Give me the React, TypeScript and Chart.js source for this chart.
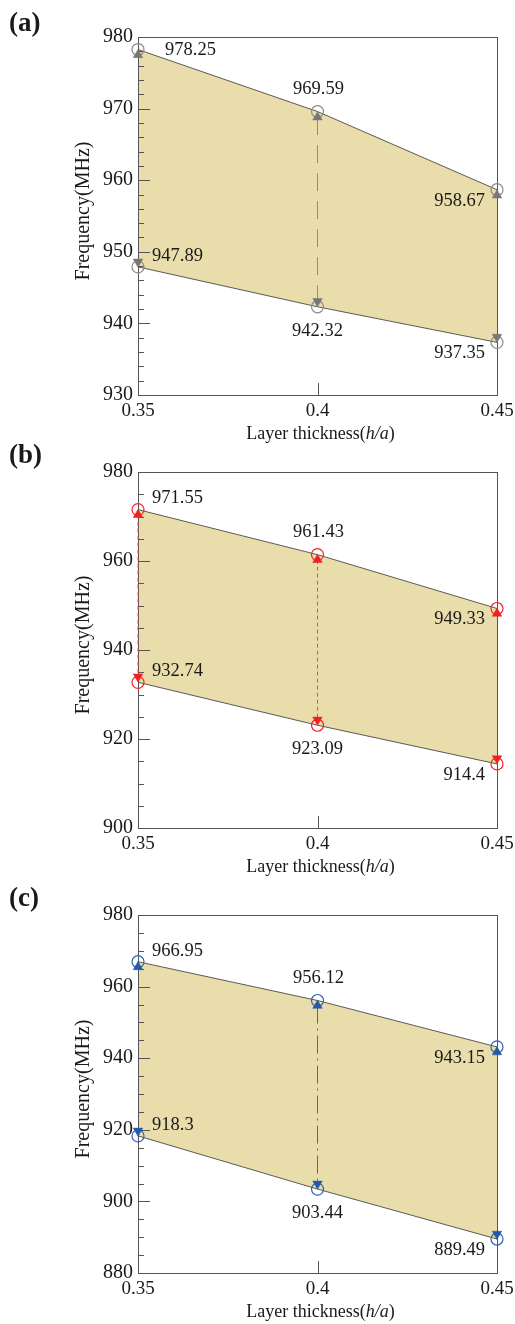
import React, { useEffect, useRef } from "react";
import { Chart, registerables } from "chart.js";

Chart.register(...registerables);

// ---------- data ----------
const thickness = [0.35, 0.4, 0.45];
const xTickLabels = ["0.35", "0.4", "0.45"];

const upperA = [978.25, 969.59, 958.67];
const lowerA = [947.89, 942.32, 937.35];
const triUpA = [977.5, 968.8, 957.9];
const triDownA = [948.6, 943.1, 938.1];
const yTicksA = [930, 940, 950, 960, 970, 980];

const upperB = [971.55, 961.43, 949.33];
const lowerB = [932.74, 923.09, 914.4];
const triUpB = [970.4, 960.3, 948.2];
const triDownB = [934.0, 924.3, 915.6];
const yTicksB = [900, 920, 940, 960, 980];

const upperC = [966.95, 956.12, 943.15];
const lowerC = [918.3, 903.44, 889.49];
const triUpC = [965.5, 954.7, 941.7];
const triDownC = [919.7, 904.9, 890.9];
const yTicksC = [880, 900, 920, 940, 960, 980];

// ---------- styling ----------
const SERIF = "'Liberation Serif', 'Times New Roman', serif";
const FILL = "rgb(233, 221, 172)";
const FRAME = "#555555";
const TEXT = "#1a1a1a";

type Panel = {
  name: string;
  upper: number[];
  lower: number[];
  triUp: number[];
  triDown: number[];
  yTicks: number[];
  minorStep: number;
  circleColor: string;
  triColor: string;
  dashColor: string;
  dash: number[];
  dashAt: number[];
  upperPlace: string[];
  lowerPlace: string[];
  canvasTop: number;
  canvasHeight: number;
  plotTop: number;
  plotBottom: number;
  labelY: number;
};

const panels: Panel[] = [
  {
    name: "(a)",
    upper: upperA, lower: lowerA, triUp: triUpA, triDown: triDownA,
    yTicks: yTicksA, minorStep: 2,
    circleColor: "#8c8c8c", triColor: "#777777", dashColor: "#8c8c8c",
    dash: [18, 10], dashAt: [1],
    upperPlace: ["rightLevel", "above", "belowLeft"],
    lowerPlace: ["rightUp", "below", "belowLeft"],
    canvasTop: 0, canvasHeight: 445, plotTop: 37, plotBottom: 395, labelY: 24,
  },
  {
    name: "(b)",
    upper: upperB, lower: lowerB, triUp: triUpB, triDown: triDownB,
    yTicks: yTicksB, minorStep: 5,
    circleColor: "#ff1e1e", triColor: "#ee2222", dashColor: "#e05050",
    dash: [4, 3], dashAt: [0, 1],
    upperPlace: ["rightUp", "above", "belowLeft"],
    lowerPlace: ["rightUp", "below", "belowLeft"],
    canvasTop: 440, canvasHeight: 445, plotTop: 472, plotBottom: 828, labelY: 456,
  },
  {
    name: "(c)",
    upper: upperC, lower: lowerC, triUp: triUpC, triDown: triDownC,
    yTicks: yTicksC, minorStep: 5,
    circleColor: "#2f63b8", triColor: "#2458a8", dashColor: "#50698f",
    dash: [18, 5, 2, 5], dashAt: [1],
    upperPlace: ["rightUp", "above", "belowLeft"],
    lowerPlace: ["rightUp", "below", "belowLeft"],
    canvasTop: 880, canvasHeight: 444, plotTop: 915, plotBottom: 1273, labelY: 899,
  },
];

const placements: Record<string, { align: CanvasTextAlign; dx: number; dy: number }> = {
  rightLevel: { align: "left", dx: 27, dy: 1 },
  rightUp: { align: "left", dx: 14, dy: -11 },
  above: { align: "center", dx: 1, dy: -22 },
  below: { align: "center", dx: 0, dy: 24 },
  belowLeft: { align: "right", dx: -12, dy: 11 },
};

function buildChart(canvas: HTMLCanvasElement, p: Panel): Chart {
  const pts = (ys: number[]) => thickness.map((x, i) => ({ x, y: ys[i] }));
  const yMin = p.yTicks[0];
  const yMax = p.yTicks[p.yTicks.length - 1];

  const decor = {
    id: "decor-" + p.name,
    beforeDatasetsDraw(chart: any) {
      const { ctx, chartArea: a, scales } = chart;
      const ys = scales.y;
      const xs = scales.x;
      ctx.save();
      ctx.strokeStyle = FRAME;
      ctx.lineWidth = 1;
      ctx.beginPath();
      for (let v = yMin; v <= yMax + 1e-9; v += p.minorStep) {
        const y = Math.round(ys.getPixelForValue(v)) + 0.5;
        const major = p.yTicks.some((t) => Math.abs(t - v) < 1e-9);
        ctx.moveTo(a.left, y);
        ctx.lineTo(a.left + (major ? 12 : 6), y);
      }
      for (let i = 1; i < thickness.length - 1; i++) {
        const x = Math.round(xs.getPixelForValue(thickness[i])) + 0.5;
        ctx.moveTo(x, a.bottom);
        ctx.lineTo(x, a.bottom - 12);
      }
      ctx.stroke();
      ctx.strokeRect(Math.round(a.left) + 0.5, Math.round(a.top) + 0.5,
        Math.round(a.right - a.left), Math.round(a.bottom - a.top));
      ctx.restore();
    },
    afterDatasetsDraw(chart: any) {
      const { ctx, chartArea: a, scales } = chart;
      const xs = scales.x;
      const ys = scales.y;
      ctx.save();
      ctx.fillStyle = TEXT;
      ctx.font = `18.5px ${SERIF}`;
      ctx.textBaseline = "middle";
      const drawSet = (vals: number[], places: string[]) => {
        vals.forEach((v, i) => {
          const pl = placements[places[i]];
          const px = xs.getPixelForValue(thickness[i]);
          const py = ys.getPixelForValue(v);
          ctx.textAlign = pl.align;
          ctx.fillText(String(v), px + pl.dx, py + pl.dy);
        });
      };
      drawSet(p.upper, p.upperPlace);
      drawSet(p.lower, p.lowerPlace);

      ctx.font = `bold 27px ${SERIF}`;
      ctx.textAlign = "left";
      ctx.fillText(p.name, 9, p.labelY - p.canvasTop);

      const parts: [string, string][] = [
        ["Layer thickness(", `18px ${SERIF}`],
        ["h/a", `italic 18px ${SERIF}`],
        [")", `18px ${SERIF}`],
      ];
      let total = 0;
      parts.forEach(([t, f]) => { ctx.font = f; total += ctx.measureText(t).width; });
      let x = (a.left + a.right) / 2 + 3 - total / 2;
      const ty = a.bottom + 39;
      ctx.textAlign = "left";
      parts.forEach(([t, f]) => { ctx.font = f; ctx.fillText(t, x, ty); x += ctx.measureText(t).width; });

      ctx.save();
      ctx.translate(84, (a.top + a.bottom) / 2 - 5);
      ctx.rotate(-Math.PI / 2);
      ctx.font = `20px ${SERIF}`;
      ctx.textAlign = "center";
      ctx.fillText("Frequency(MHz)", 0, 0);
      ctx.restore();
      ctx.restore();
    },
  };

  const lineStyle = {
    borderColor: "#333333",
    borderWidth: 0.8,
    pointStyle: "circle",
    pointRadius: 6,
    pointHoverRadius: 6,
    pointBorderColor: p.circleColor,
    pointBackgroundColor: "rgba(0,0,0,0)",
    pointBorderWidth: 1.2,
    tension: 0,
    clip: false,
    order: 3,
  };

  const dashSets = p.dashAt.map((i) => ({
    data: [{ x: thickness[i], y: p.triUp[i] }, { x: thickness[i], y: p.triDown[i] }],
    borderColor: p.dashColor,
    borderWidth: 1,
    borderDash: p.dash,
    pointRadius: 0,
    fill: false,
    clip: false,
    order: 4,
  }));

  const triStyle = {
    showLine: false,
    pointStyle: "triangle",
    pointRadius: 5.5,
    pointHoverRadius: 5.5,
    pointBackgroundColor: p.triColor,
    pointBorderColor: p.triColor,
    pointBorderWidth: 0.5,
    fill: false,
    clip: false,
    order: 1,
  };

  const zeroPad = (s: any) => {
    s.paddingLeft = 0;
    s.paddingRight = 0;
    s.paddingTop = 0;
    s.paddingBottom = 0;
  };

  return new Chart(canvas, {
    type: "line",
    data: {
      datasets: [
        { ...lineStyle, data: pts(p.upper), fill: "+1", backgroundColor: FILL } as any,
        { ...lineStyle, data: pts(p.lower), fill: false } as any,
        ...(dashSets as any[]),
        { ...triStyle, data: pts(p.triUp), pointRotation: 0 } as any,
        { ...triStyle, data: pts(p.triDown), pointRotation: 180 } as any,
      ],
    },
    options: {
      responsive: false,
      animation: false,
      events: [],
      layout: { padding: { top: p.plotTop - p.canvasTop, left: 0, right: 18, bottom: 0 } },
      plugins: {
        legend: { display: false },
        tooltip: { enabled: false },
        filler: { propagate: false, drawTime: "beforeDatasetsDraw" } as any,
      },
      scales: {
        x: {
          type: "linear",
          min: thickness[0],
          max: thickness[thickness.length - 1],
          afterBuildTicks: (s: any) => { s.ticks = thickness.map((v) => ({ value: v })); },
          afterFit: (s: any) => { s.height = p.canvasTop + p.canvasHeight - p.plotBottom; zeroPad(s); },
          grid: { display: false, drawTicks: false },
          border: { display: false },
          ticks: {
            padding: 5,
            color: TEXT,
            font: { family: SERIF, size: 19 },
            maxRotation: 0,
            autoSkip: false,
            callback: (_v: any, i: number) => xTickLabels[i],
          },
        },
        y: {
          type: "linear",
          min: yMin,
          max: yMax,
          afterBuildTicks: (s: any) => { s.ticks = p.yTicks.map((v) => ({ value: v })); },
          afterFit: (s: any) => { s.width = 138; zeroPad(s); },
          grid: { display: false, drawTicks: false },
          border: { display: false },
          ticks: {
            padding: 5,
            color: TEXT,
            font: { family: SERIF, size: 20 },
            callback: (v: any) => String(v),
          },
        },
      },
    },
    plugins: [decor],
  } as any);
}

function PanelChart({ p }: { p: Panel }) {
  const ref = useRef<HTMLCanvasElement | null>(null);
  useEffect(() => {
    if (!ref.current) return;
    const chart = buildChart(ref.current, p);
    return () => chart.destroy();
  }, [p]);
  return (
    <canvas
      ref={ref}
      width={515}
      height={p.canvasHeight}
      style={{ position: "absolute", left: 0, top: p.canvasTop, width: 515, height: p.canvasHeight, display: "block" }}
    />
  );
}

export default function App() {
  return (
    <div style={{ position: "absolute", left: 0, top: 0, width: 515, height: 1324, background: "#ffffff" }}>
      {panels.map((p) => (
        <PanelChart key={p.name} p={p} />
      ))}
    </div>
  );
}
